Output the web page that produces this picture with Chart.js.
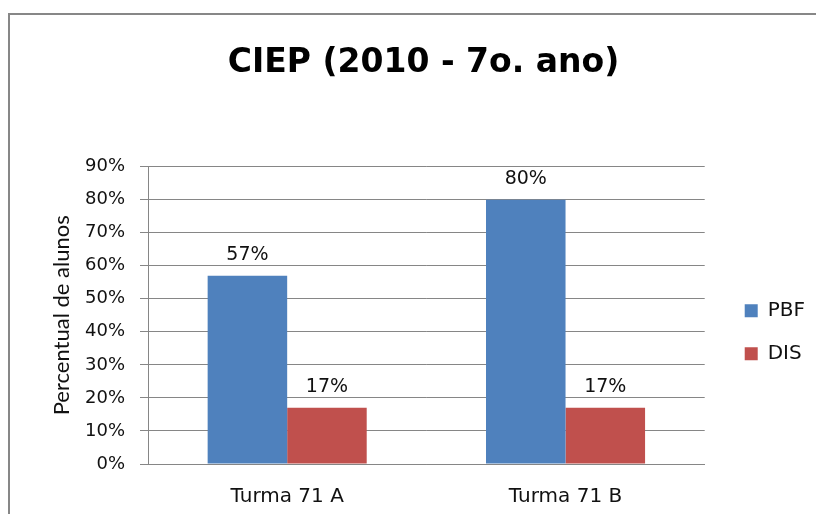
<!DOCTYPE html>
<html>
<head>
<meta charset="utf-8">
<script src="https://cdn.jsdelivr.net/npm/chart.js@4.4.0/dist/chart.umd.min.js"></script>
<style>
  body { margin: 0; background: #fff; overflow: hidden; }
  #wrap { position: relative; width: 816px; height: 514px; overflow: hidden; }
  #frame { position: absolute; left: 8px; top: 13px; width: 900px; height: 600px; border: 2px solid #878787; }
  #box { position: absolute; left: 0; top: 0; width: 816px; height: 514px; }
</style>
</head>
<body>
<div id="wrap">
  <div id="frame"></div>
  <div id="box"><canvas id="myChart"></canvas></div>
</div>
<script>
const titleText = 'CIEP (2010 - 7o. ano)'
const categories = ['Turma 71 A', 'Turma 71 B']
const seriesNames = ['PBF', 'DIS']
const pbfValues = [57, 80]
const disValues = [17, 17]
const yMax = 90
const yStep = 10

const gridGray = '#868686'
const textColor = '#111'

Chart.defaults.font.family = 'DejaVu Sans'
Chart.defaults.color = textColor

// values written above each bar
const barLabels = {
    id: 'barLabels',
    afterDatasetsDraw(chart) {
        const ctx = chart.ctx
        ctx.save()
        ctx.font = '19px "DejaVu Sans"'
        ctx.fillStyle = textColor
        ctx.textAlign = 'center'
        ctx.textBaseline = 'alphabetic'
        chart.data.datasets.forEach((ds, i) => {
            chart.getDatasetMeta(i).data.forEach((bar, j) => {
                ctx.fillText(ds.data[j] + '%', bar.x, bar.y - 16)
            })
        })
        ctx.restore()
    }
}

// nudge the legend a bit to the right and down, like the original
const legendNudge = {
    id: 'legendNudge',
    afterLayout(chart) {
        const lg = chart.legend
        lg.left += 17
        lg.right += 17
        lg.top += 17
        lg.bottom += 17
    }
}

let myChart = document.querySelector('#myChart').getContext('2d')

let ciepChart = new Chart(myChart, {
    type: 'bar',
    data: {
        labels: categories,
        datasets: [{
            label: seriesNames[0],
            data: pbfValues,
            backgroundColor: '#4F81BD'
        }, {
            label: seriesNames[1],
            data: disValues,
            backgroundColor: '#C0504D'
        }]
    },
    options: {
        responsive: true,
        maintainAspectRatio: false,
        animation: false,
        events: [],
        categoryPercentage: 2 / 3.5,
        barPercentage: 1,
        layout: { padding: { left: 49, right: 18, top: 0, bottom: 0 } },
        plugins: {
            title: {
                display: true,
                text: titleText,
                color: '#000',
                font: { family: 'DejaVu Sans', size: 33, weight: 'bold' },
                padding: { top: 44, bottom: 83 }
            },
            legend: {
                position: 'right',
                fullSize: false,
                labels: {
                    boxWidth: 13,
                    boxHeight: 13,
                    padding: 23,
                    font: { size: 20 },
                    color: textColor
                }
            },
            tooltip: { enabled: false }
        },
        scales: {
            x: {
                grid: { display: false },
                border: { color: gridGray },
                ticks: { font: { size: 20 }, padding: 13, color: textColor },
                afterFit: (s) => { s.height = 50 }
            },
            y: {
                min: 0,
                max: yMax,
                ticks: {
                    stepSize: yStep,
                    font: { size: 18 },
                    padding: 15,
                    color: textColor,
                    callback: (v) => v + '%'
                },
                grid: { color: gridGray, tickLength: 8 },
                border: { color: gridGray },
                title: {
                    display: true,
                    text: 'Percentual de alunos',
                    font: { family: 'Lato', size: 22 },
                    color: textColor,
                    padding: 0
                },
                afterFit: (s) => { s.width = 99 }
            }
        }
    },
    plugins: [barLabels, legendNudge]
})
</script>
</body>
</html>
